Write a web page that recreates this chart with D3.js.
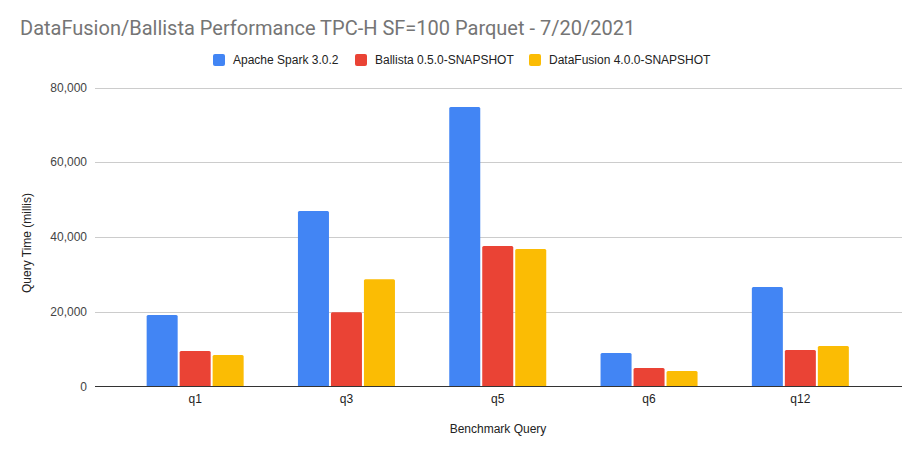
<!DOCTYPE html>
<html><head><meta charset="utf-8">
<script src="https://cdn.jsdelivr.net/npm/d3@7"></script>
<style>body{margin:0;background:#fff}svg{display:block}</style>
</head><body>
<script>
const categories = ["q1","q3","q5","q6","q12"];
const seriesNames = ["Apache Spark 3.0.2","Ballista 0.5.0-SNAPSHOT","DataFusion 4.0.0-SNAPSHOT"];
const spark = [19130, 46950, 74780, 8960, 26620];
const ballista = [9500, 19850, 37590, 4950, 9770];
const datafusion = [8430, 28680, 36790, 4150, 10840];
const yTicks = [0, 20000, 40000, 60000, 80000];
const colors = ["#4285f4","#ea4335","#fbbc04"];
const series = [spark, ballista, datafusion];

const W = 923, H = 456;
const svg = d3.select("body").append("svg").attr("width", W).attr("height", H);
const gridL = 95, gridR = 902;
const y = d3.scaleLinear().domain([0, 80000]).range([386.5, 87.5]);
const x0 = d3.scaleBand().domain(categories).range([119.5, 876]).paddingInner(0).paddingOuter(0);
const x1 = d3.scaleBand().domain(d3.range(3)).range([-48.5, 48.5]).paddingInner(0.06);
const font = "Liberation Sans, Arial, sans-serif";

svg.append("text").attr("x", 20).attr("y", 35).text("DataFusion/Ballista Performance TPC-H SF=100 Parquet - 7/20/2021")
  .attr("font-family", "Roboto, sans-serif").attr("font-size", 20).attr("fill", "#757575");

// legend
const legX = [213, 355, 529];
seriesNames.forEach((n, i) => {
  svg.append("rect").attr("x", legX[i]).attr("y", 54).attr("width", 12).attr("height", 12).attr("rx", 2).attr("fill", colors[i]);
  svg.append("text").attr("x", legX[i] + 20).attr("y", 64).text(n).attr("font-family", font).attr("font-size", 12).attr("fill", "#222");
});

// grid
const g = svg.append("g");
g.selectAll("line.grid").data(yTicks.filter(d => d > 0)).join("line")
  .attr("x1", gridL).attr("x2", gridR).attr("y1", d => Math.round(y(d)) + 0.5).attr("y2", d => Math.round(y(d)) + 0.5)
  .attr("stroke", "#cccccc").attr("stroke-width", 1);
g.selectAll("text.yt").data(yTicks).join("text")
  .attr("x", 87).attr("y", d => y(d) + 4).attr("text-anchor", "end").text(d => d3.format(",")(d))
  .attr("font-family", font).attr("font-size", 12).attr("fill", "#444");

// bars
categories.forEach((c, ci) => {
  series.forEach((s, si) => {
    const cx = x0(c) + x0.bandwidth() / 2;
    const bx = cx + x1(si), bw = x1.bandwidth(), top = y(s[ci]), bot = y(0);
    const r = 1.5;
    svg.append("path").attr("fill", colors[si])
      .attr("d", `M${bx},${bot}V${top + r}Q${bx},${top} ${bx + r},${top}H${bx + bw - r}Q${bx + bw},${top} ${bx + bw},${top + r}V${bot}Z`);
  });
  svg.append("text").attr("x", x0(c) + x0.bandwidth() / 2).attr("y", 403).attr("text-anchor", "middle").text(c)
    .attr("font-family", font).attr("font-size", 12).attr("fill", "#222");
});

// baseline
svg.append("line").attr("x1", gridL).attr("x2", gridR).attr("y1", 386.5).attr("y2", 386.5).attr("stroke", "#333").attr("stroke-width", 1);

// axis titles
svg.append("text").attr("x", 498).attr("y", 433).attr("text-anchor", "middle").text("Benchmark Query")
  .attr("font-family", font).attr("font-size", 12).attr("fill", "#222");
svg.append("text").attr("transform", "translate(31,243) rotate(-90)").attr("text-anchor", "middle").text("Query Time (millis)")
  .attr("font-family", font).attr("font-size", 12).attr("fill", "#222");
</script>
</body></html>
